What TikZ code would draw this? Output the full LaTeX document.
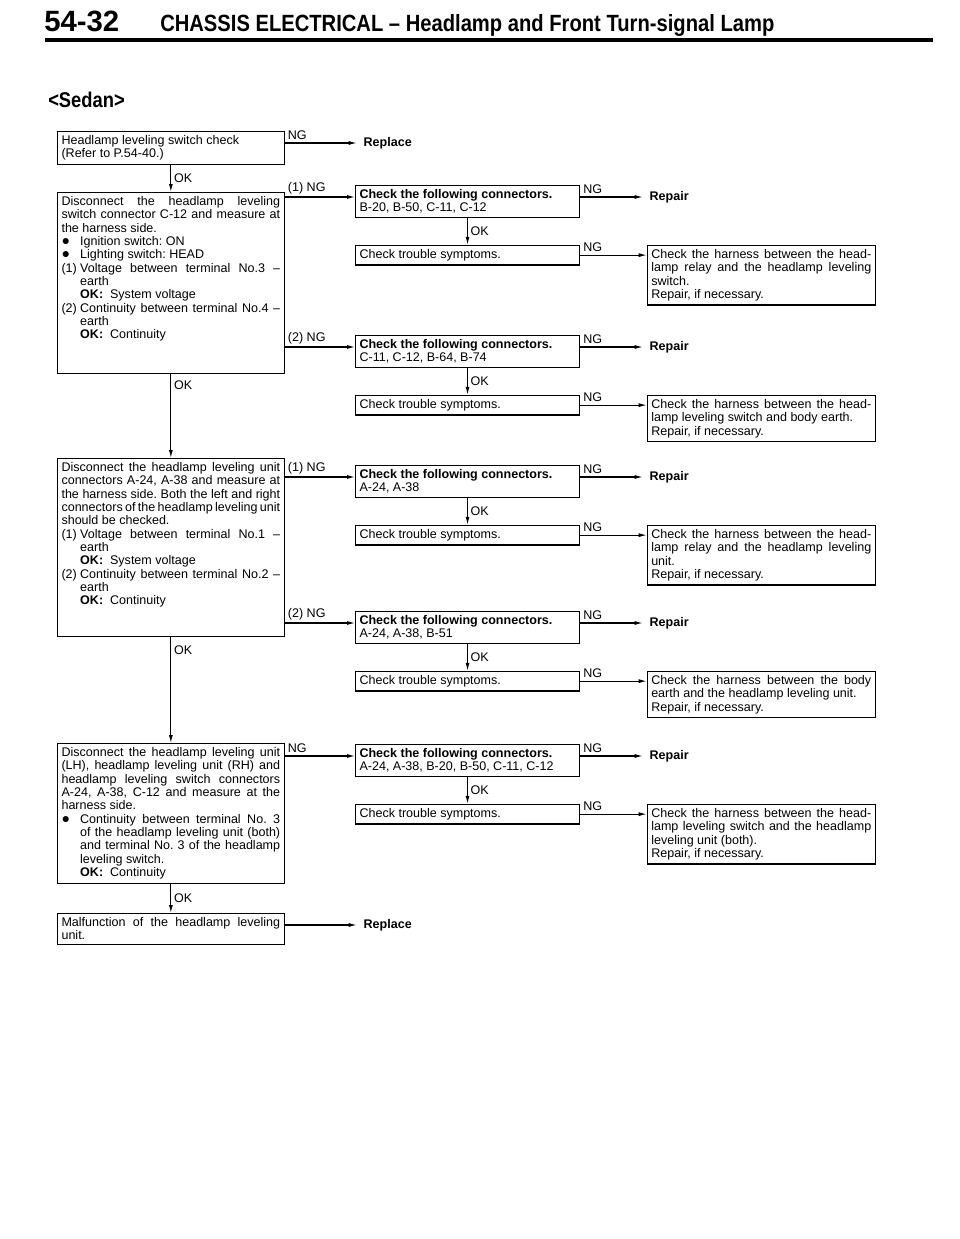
\documentclass[tikz,border=0pt]{standalone}
\usepackage{fontspec}
\setmainfont{Liberation Sans}
\newfontfamily\headfont[FakeStretch=0.86]{Liberation Sans}
\usetikzlibrary{arrows.meta,positioning}

\newcommand{\boxfont}{\fontsize{9.4}{10}\selectfont}
\newcommand{\itmark}[1]{\makebox[14pt][l]{#1}}
\newcommand{\itcont}{\hspace*{14pt}}
\newcommand{\bigdot}{\raisebox{0.2pt}{\fontsize{10.5}{10}\selectfont ●}}

\tikzset{
  box/.style={draw, line width=0.8pt, anchor=north west, inner xsep=3pt, inner ysep=3pt,
    align=justify, font=\boxfont,
    execute at begin node={\hyphenpenalty=10000\tolerance=9999\frenchspacing
      \spaceskip=2.6pt plus 3pt minus 1.2pt}},
  leftbox/.style={box, text width=164pt},
  midbox/.style={box, text width=162pt, align=left},
  rightbox/.style={box, text width=165pt},
  act/.style={anchor=west, inner xsep=5pt, inner ysep=1pt, font=\boxfont\bfseries},
  lbl/.style={inner sep=2pt, font=\boxfont},
  arr/.style={line width=0.8pt, -{Latex[length=6pt,width=3pt]}}
}

\begin{document}
\begin{tikzpicture}[x=0.75pt, y=-0.75pt]
  \useasboundingbox (0,0) rectangle (960,1239);

  % page head
  \node[anchor=base west, inner sep=0pt, font=\bfseries\fontsize{22}{22}\selectfont] (pgno) at (44,31) {54-32};
  \node[anchor=base west, inner sep=0pt, font=\headfont\bfseries\fontsize{17.6}{17.6}\selectfont] (title) at (160,31) {CHASSIS ELECTRICAL \textendash\ Headlamp and Front Turn-signal Lamp};
  \draw[line width=3pt] (45,40) -- (933,40);
  \node[anchor=base west, inner sep=0pt, font=\headfont\bfseries\fontsize{16}{16}\selectfont] (sedan) at (48,107) {<Sedan>};

  % left column
  \node[leftbox, align=left] (swchk) at (57,131) {Headlamp leveling switch check\\(Refer to P.54-40.)};
  \node[leftbox, text depth=123pt] (disc1) at (57,192) {Disconnect the headlamp leveling\linebreak
    switch connector C-12 and measure at\linebreak
    the harness side.\newline
    \itmark{\bigdot}Ignition switch: ON\newline
    \itmark{\bigdot}Lighting switch: HEAD\newline
    \itmark{(1)}Voltage between terminal No.3 \textendash\linebreak
    \itcont earth\newline
    \itcont\textbf{OK:}\ \ System voltage\newline
    \itmark{(2)}Continuity between terminal No.4 \textendash\linebreak
    \itcont earth\newline
    \itcont\textbf{OK:}\ \ Continuity};
  \node[leftbox, text depth=121pt] (disc2) at (57,458) {Disconnect the headlamp leveling unit\linebreak
    connectors A-24, A-38 and measure at\linebreak
    the harness side. Both the left and right\linebreak
    connectors of the headlamp leveling unit\linebreak
    should be checked.\newline
    \itmark{(1)}Voltage between terminal No.1 \textendash\linebreak
    \itcont earth\newline
    \itcont\textbf{OK:}\ \ System voltage\newline
    \itmark{(2)}Continuity between terminal No.2 \textendash\linebreak
    \itcont earth\newline
    \itcont\textbf{OK:}\ \ Continuity};
  \node[leftbox] (disc3) at (57,743) {Disconnect the headlamp leveling unit\linebreak
    (LH), headlamp leveling unit (RH) and\linebreak
    headlamp leveling switch connectors\linebreak
    A-24, A-38, C-12 and measure at the\linebreak
    harness side.\newline
    \itmark{\bigdot}Continuity between terminal No. 3\linebreak
    \itcont of the headlamp leveling unit (both)\linebreak
    \itcont and terminal No. 3 of the headlamp\linebreak
    \itcont leveling switch.\newline
    \itcont\textbf{OK:}\ \ Continuity};
  \node[leftbox] (malf) at (57,913) {Malfunction of the headlamp leveling\linebreak unit.};

  % connector checks
  \node[midbox] (conn1) at (355,185) {\textbf{Check the following connectors.}\\B-20, B-50, C-11, C-12};
  \node[midbox, below=20pt of conn1.south west, anchor=north west] (trb1) {Check trouble symptoms.};
  \node[midbox] (conn2) at (355,335) {\textbf{Check the following connectors.}\\C-11, C-12, B-64, B-74};
  \node[midbox, below=20pt of conn2.south west, anchor=north west] (trb2) {Check trouble symptoms.};
  \node[midbox] (conn3) at (355,465) {\textbf{Check the following connectors.}\\A-24, A-38};
  \node[midbox, below=20pt of conn3.south west, anchor=north west] (trb3) {Check trouble symptoms.};
  \node[midbox] (conn4) at (355,611) {\textbf{Check the following connectors.}\\A-24, A-38, B-51};
  \node[midbox, below=20pt of conn4.south west, anchor=north west] (trb4) {Check trouble symptoms.};
  \node[midbox] (conn5) at (355,744) {\textbf{Check the following connectors.}\\A-24, A-38, B-20, B-50, C-11, C-12};
  \node[midbox, below=20pt of conn5.south west, anchor=north west] (trb5) {Check trouble symptoms.};

  % harness checks
  \node[rightbox, right=50pt of trb1.north east, anchor=north west] (harn1) {Check the harness between the head-\linebreak
    lamp relay and the headlamp leveling\linebreak switch.\newline Repair, if necessary.};
  \node[rightbox, right=50pt of trb2.north east, anchor=north west] (harn2) {Check the harness between the head-\linebreak
    lamp leveling switch and body earth.\newline Repair, if necessary.};
  \node[rightbox, right=50pt of trb3.north east, anchor=north west] (harn3) {Check the harness between the head-\linebreak
    lamp relay and the headlamp leveling\linebreak unit.\newline Repair, if necessary.};
  \node[rightbox, right=50pt of trb4.north east, anchor=north west] (harn4) {Check the harness between the body\linebreak
    earth and the headlamp leveling unit.\newline Repair, if necessary.};
  \node[rightbox, right=50pt of trb5.north east, anchor=north west] (harn5) {Check the harness between the head-\linebreak
    lamp leveling switch and the headlamp\linebreak leveling unit (both).\newline Repair, if necessary.};

  % end actions
  \node[act, right=54pt of swchk.north east, yshift=-9pt] (rpl1) {Replace};
  \node[act, right=54pt of malf.north east, yshift=-9pt] (rpl2) {Replace};
  \node[act, right=47pt of conn1.north east, yshift=-9pt] (rep1) {Repair};
  \node[act, right=47pt of conn2.north east, yshift=-9pt] (rep2) {Repair};
  \node[act, right=47pt of conn3.north east, yshift=-9pt] (rep3) {Repair};
  \node[act, right=47pt of conn4.north east, yshift=-9pt] (rep4) {Repair};
  \node[act, right=47pt of conn5.north east, yshift=-9pt] (rep5) {Repair};

  \coordinate (in1) at ([yshift=-9pt]conn1.north west);
  \coordinate (in2) at ([yshift=-9pt]conn2.north west);
  \coordinate (in3) at ([yshift=-9pt]conn3.north west);
  \coordinate (in4) at ([yshift=-9pt]conn4.north west);
  \coordinate (in5) at ([yshift=-9pt]conn5.north west);

  % main line
  \draw[arr] (swchk.south) -- (disc1.north) node[lbl, midway, right] {OK};
  \draw[arr] (disc1.south) -- (disc2.north) node[lbl, pos=0.13, right] {OK};
  \draw[arr] (disc2.south) -- (disc3.north) node[lbl, pos=0.12, right] {OK};
  \draw[arr] (disc3.south) -- (malf.north) node[lbl, midway, right] {OK};
  \draw[arr] (swchk.east |- rpl1.west) -- (rpl1.west) node[lbl, pos=0, above right] {NG};
  \draw[arr] (malf.east |- rpl2.west) -- (rpl2.west);

  % branches
  \draw[arr] (disc1.east |- in1) -- (in1) node[lbl, pos=0, above right] {(1) NG};
  \draw[arr] (disc1.east |- in2) -- (in2) node[lbl, pos=0, above right] {(2) NG};
  \draw[arr] (disc2.east |- in3) -- (in3) node[lbl, pos=0, above right] {(1) NG};
  \draw[arr] (disc2.east |- in4) -- (in4) node[lbl, pos=0, above right] {(2) NG};
  \draw[arr] (disc3.east |- in5) -- (in5) node[lbl, pos=0, above right] {NG};

  \foreach \i in {1,...,5} {
    \draw[arr] (conn\i.east |- rep\i.west) -- (rep\i.west) node[lbl, pos=0, above right] {NG};
    \draw[arr] (conn\i.south) -- (trb\i.north) node[lbl, midway, right] {OK};
    \draw[arr] (trb\i.east) -- (harn\i.west |- trb\i.east) node[lbl, pos=0, above right] {NG};
  }
\end{tikzpicture}
\end{document}
